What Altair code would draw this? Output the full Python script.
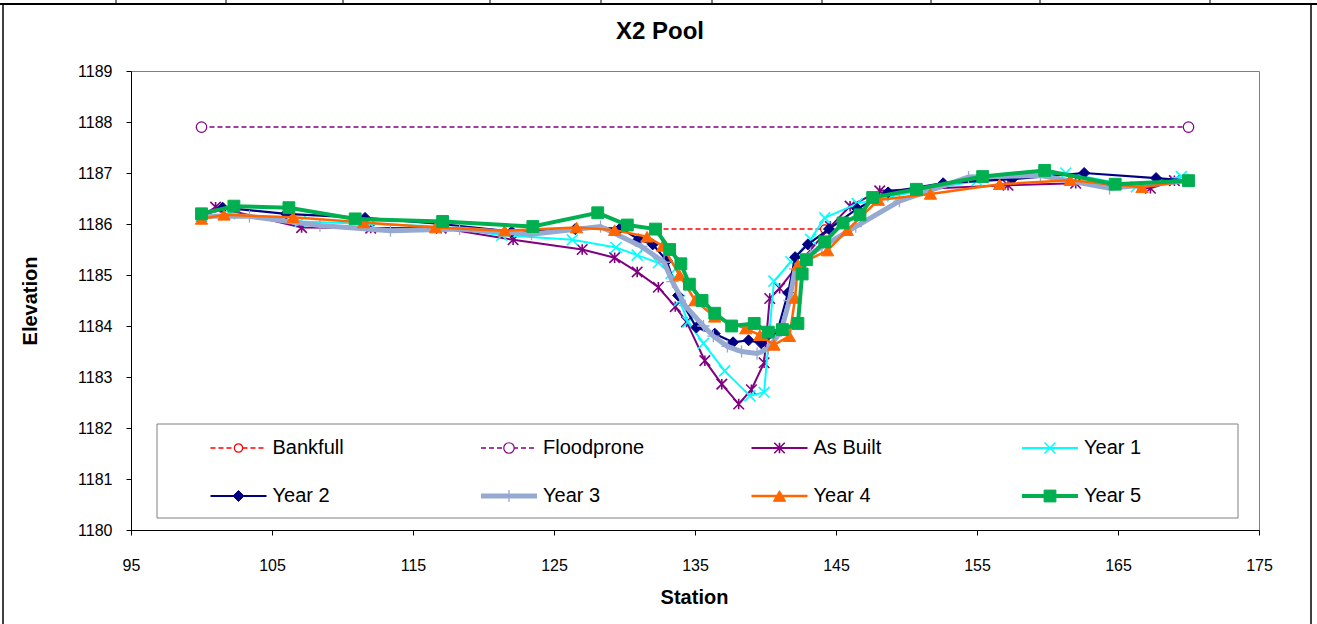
import altair as alt
import pandas as pd

# ---- survey data: X2 pool cross-section (station vs elevation, ft) ----
bankfull_station = [132.2, 144.2]
bankfull_elev = [1185.9, 1185.9]

floodprone_station = [100.0, 170.0]
floodprone_elev = [1187.9, 1187.9]

as_built_station = [100.0, 101.0, 107.1, 112.0, 117.0, 122.1, 127.0, 129.3, 130.9, 132.4,
                    133.6, 134.4, 135.7, 136.9, 138.1, 139.0, 139.9, 140.3, 141.0, 142.6,
                    144.6, 146.0, 148.1, 157.2, 162.0, 167.3, 169.0]
as_built_elev = [1186.15, 1186.33, 1185.93, 1185.92, 1185.92, 1185.69, 1185.50, 1185.34, 1185.06, 1184.76,
                 1184.38, 1184.08, 1183.32, 1182.86, 1182.47, 1182.75, 1183.28, 1184.54, 1184.74, 1185.30,
                 1185.95, 1186.35, 1186.65, 1186.76, 1186.80, 1186.70, 1186.85]

year1_station = [100.0, 102.0, 107.0, 112.0, 117.0, 121.3, 126.3, 129.4, 130.9, 132.4,
                 133.3, 133.9, 134.5, 135.6, 137.1, 138.9, 139.9, 140.6, 141.8, 143.2,
                 144.2, 146.5, 149.0, 155.0, 161.3, 166.3, 169.5]
year1_elev = [1186.15, 1186.20, 1186.05, 1186.00, 1185.95, 1185.78, 1185.69, 1185.54, 1185.39, 1185.24,
              1185.03, 1184.50, 1184.08, 1183.66, 1183.12, 1182.63, 1182.70, 1184.88, 1185.26, 1185.70,
              1186.12, 1186.40, 1186.55, 1186.85, 1187.00, 1186.73, 1186.93]

year2_station = [100.0, 101.5, 106.0, 111.6, 117.0, 122.0, 126.5, 129.7, 131.0, 132.0,
                 133.0, 133.8, 135.1, 136.4, 137.7, 138.8, 139.7, 140.8, 141.6, 142.1,
                 143.0, 144.5, 146.5, 148.7, 152.6, 157.5, 162.6, 167.7, 170.0]
year2_elev = [1186.15, 1186.32, 1186.20, 1186.12, 1186.00, 1185.85, 1185.90, 1185.92, 1185.70, 1185.60,
              1185.28, 1184.60, 1183.97, 1183.85, 1183.68, 1183.72, 1183.66, 1183.85, 1184.65, 1185.35,
              1185.60, 1185.90, 1186.30, 1186.62, 1186.80, 1186.88, 1187.00, 1186.90, 1186.85]

year3_station = [100.0, 103.4, 108.4, 113.4, 118.3, 123.4, 128.3, 131.2, 132.8, 133.4,
                 134.3, 135.6, 136.3, 137.3, 138.3, 139.4, 140.2, 141.1, 141.7, 142.1,
                 143.2, 144.0, 146.4, 149.5, 154.4, 159.5, 164.4, 170.0]
year3_elev = [1186.15, 1186.15, 1185.97, 1185.87, 1185.90, 1185.80, 1185.95, 1185.56, 1185.25, 1184.87,
              1184.40, 1184.00, 1183.80, 1183.60, 1183.50, 1183.46, 1183.56, 1183.90, 1184.50, 1185.12,
              1185.42, 1185.55, 1185.95, 1186.45, 1186.92, 1186.95, 1186.70, 1186.85]

year4_station = [100.0, 101.6, 106.5, 111.5, 116.6, 121.5, 126.6, 129.3, 131.6, 132.7,
                 133.9, 135.0, 136.4, 138.6, 139.6, 140.6, 141.7, 142.1, 142.3, 144.4,
                 145.8, 148.0, 151.7, 156.6, 161.6, 166.7, 170.0]
year4_elev = [1186.10, 1186.18, 1186.13, 1186.03, 1185.93, 1185.87, 1185.93, 1185.88, 1185.75, 1185.57,
              1185.00, 1184.50, 1184.18, 1183.95, 1183.82, 1183.63, 1183.80, 1184.55, 1185.20, 1185.48,
              1185.88, 1186.47, 1186.59, 1186.78, 1186.86, 1186.72, 1186.85]

year5_station = [100.0, 102.3, 106.2, 110.9, 117.1, 123.5, 128.1, 130.2, 132.2, 133.2,
                 134.0, 134.6, 135.5, 136.4, 137.6, 139.2, 140.2, 141.2, 142.3, 142.6,
                 142.9, 144.2, 145.5, 146.7, 147.6, 150.7, 155.4, 159.8, 164.8, 170.0]
year5_elev = [1186.20, 1186.35, 1186.32, 1186.10, 1186.05, 1185.95, 1186.22, 1185.98, 1185.90, 1185.50,
              1185.22, 1184.82, 1184.50, 1184.25, 1184.00, 1184.05, 1183.88, 1183.93, 1184.05, 1185.02,
              1185.30, 1185.65, 1186.02, 1186.18, 1186.52, 1186.68, 1186.93, 1187.05, 1186.78, 1186.85]

x_ticks = [95, 105, 115, 125, 135, 145, 155, 165, 175]
y_ticks = [1180, 1181, 1182, 1183, 1184, 1185, 1186, 1187, 1188, 1189]

chart_title = "X2 Pool"

# ---- marker glyphs (unit box -1..1) ----
ASTERISK = "M-1,-1L1,1M-1,1L1,-1M0,-1L0,1"
CROSS_X = "M-1,-1L1,1M-1,1L1,-1"
PLUS = "M-1,0L1,0M0,-1L0,1"

series = [
    ("Bankfull", bankfull_station, bankfull_elev,
     dict(color="#FF0000", width=1.5, dash=[5, 3], shape="circle", size=70, mode="hollow", mw=1.2)),
    ("Floodprone", floodprone_station, floodprone_elev,
     dict(color="#800080", width=1.5, dash=[5, 3], shape="circle", size=110, mode="hollow", mw=1.2)),
    ("As Built", as_built_station, as_built_elev,
     dict(color="#800080", width=2, dash=None, shape=ASTERISK, size=110, mode="stroke", mw=1.6)),
    ("Year 1", year1_station, year1_elev,
     dict(color="#00FFFF", width=2, dash=None, shape=CROSS_X, size=120, mode="stroke", mw=1.6)),
    ("Year 2", year2_station, year2_elev,
     dict(color="#000080", width=2.2, dash=None, shape="diamond", size=120, mode="filled", mw=1)),
    ("Year 3", year3_station, year3_elev,
     dict(color="#96A9D1", width=5, dash=None, shape=PLUS, size=150, mode="stroke", mw=1.3)),
    ("Year 4", year4_station, year4_elev,
     dict(color="#FF6600", width=2.5, dash=None, shape="triangle-up", size=150, mode="filled", mw=1)),
    ("Year 5", year5_station, year5_elev,
     dict(color="#00B050", width=4, dash=None, shape="square", size=140, mode="filled", mw=1)),
]

# ---- layout (pixels) ----
PAD_L, PAD_T, PAD_R, PAD_B = 131, 71, 58, 94
PLOT_W, PLOT_H = 1317 - PAD_L - PAD_R, 624 - PAD_T - PAD_B
FONT = "Liberation Sans"

x_enc = alt.X(
    "station:Q",
    scale=alt.Scale(domain=[95, 175], nice=False, zero=False),
    axis=alt.Axis(values=x_ticks, format="d", grid=False, domainColor="black",
                  tickColor="black", tickSize=5, labelPadding=22, labelFontSize=16,
                  labelFont=FONT, labelColor="black", labelFlush=False,
                  title="Station", titleFont=FONT, titleFontSize=20, titleFontWeight="bold",
                  titleColor="black", titleX=PLOT_W / 2 - 1, titleY=67, titleBaseline="middle"),
)
y_enc = alt.Y(
    "elev:Q",
    scale=alt.Scale(domain=[1180, 1189], nice=False, zero=False),
    axis=alt.Axis(values=y_ticks, format="d", grid=False, domainColor="black",
                  tickColor="black", tickSize=5, labelPadding=14, labelFontSize=16,
                  labelFont=FONT, labelColor="black",
                  title="Elevation", titleFont=FONT, titleFontSize=20, titleFontWeight="bold",
                  titleColor="black", titleX=30 - PAD_L, titleY=PLOT_H / 2,
                  titleBaseline="middle", titleAngle=270),
)


def point_mark(sty):
    base = dict(shape=sty["shape"], size=sty["size"], opacity=1, strokeWidth=sty["mw"])
    if sty["mode"] == "hollow":
        return dict(base, filled=True, fill="white", stroke=sty["color"])
    if sty["mode"] == "filled":
        return dict(base, filled=True, fill=sty["color"], stroke=sty["color"])
    return dict(base, filled=False, stroke=sty["color"])


def line_style(sty):
    st = dict(color=sty["color"], strokeWidth=sty["width"])
    if sty["dash"]:
        st["strokeDash"] = sty["dash"]
    return st


layers = []
legend_layers = []

# legend panel
legend_box = alt.Chart(pd.DataFrame({"k": [0]})).mark_rect(
    fill="white", stroke="#808080", strokeWidth=1
).encode(x=alt.value(157 - PAD_L), x2=alt.value(1238 - PAD_L),
         y=alt.value(424 - PAD_T), y2=alt.value(518 - PAD_T))
legend_layers.append(legend_box)

for i, (name, st, el, sty) in enumerate(series):
    df = pd.DataFrame({"station": st, "elev": el})
    layers.append(alt.Chart(df).mark_line(**line_style(sty)).encode(x=x_enc, y=y_enc))
    layers.append(alt.Chart(df).mark_point(**point_mark(sty)).encode(x=x_enc, y=y_enc))

    col, row = i % 4, i // 4
    cx = 238.5 + 270.5 * col - PAD_L
    cy = 448 + 48 * row - PAD_T
    key = alt.Chart(pd.DataFrame({"series": [name]}))
    legend_layers.append(key.mark_rule(**line_style(sty)).encode(
        x=alt.value(cx - 28), x2=alt.value(cx + 28), y=alt.value(cy)))
    legend_layers.append(key.mark_point(**point_mark(sty)).encode(
        x=alt.value(cx), y=alt.value(cy)))
    legend_layers.append(key.mark_text(align="left", baseline="middle", font=FONT,
                                       fontSize=20, color="black").encode(
        text="series:N", x=alt.value(cx + 34), y=alt.value(cy)))

# chart title
title_layer = alt.Chart(pd.DataFrame({"t": [chart_title]})).mark_text(
    align="center", baseline="middle", font=FONT, fontSize=24, fontWeight="bold", color="black"
).encode(text="t:N", x=alt.value(660 - PAD_L), y=alt.value(32 - PAD_T))

# chart-area frame and the worksheet grid edge above it
frame = []
edge = alt.Chart(pd.DataFrame({"k": [0]}))
frame.append(edge.mark_rule(color="black", strokeWidth=2).encode(
    x=alt.value(-PAD_L), x2=alt.value(1317 - PAD_L), y=alt.value(4 - PAD_T)))
frame.append(edge.mark_rule(color="black", strokeWidth=1.5).encode(
    x=alt.value(3 - PAD_L), y=alt.value(4 - PAD_T), y2=alt.value(640 - PAD_T)))
frame.append(edge.mark_rule(color="black", strokeWidth=1.5).encode(
    x=alt.value(1311 - PAD_L), y=alt.value(4 - PAD_T), y2=alt.value(640 - PAD_T)))
for gx in [116, 226, 343, 490, 601, 712, 822, 931, 1040, 1210]:
    frame.append(edge.mark_rule(color="black", strokeWidth=1).encode(
        x=alt.value(gx - PAD_L), y=alt.value(-PAD_T), y2=alt.value(4 - PAD_T)))

chart = alt.layer(*layers, *legend_layers, title_layer, *frame).properties(
    width=PLOT_W,
    height=PLOT_H,
    autosize=alt.AutoSizeParams(type="none"),
    padding={"left": PAD_L, "top": PAD_T, "right": PAD_R, "bottom": PAD_B},
    background="white",
).configure_view(stroke="#808080", strokeWidth=1)

chart.save("out.html", embed_options={"renderer": "svg", "actions": False})
